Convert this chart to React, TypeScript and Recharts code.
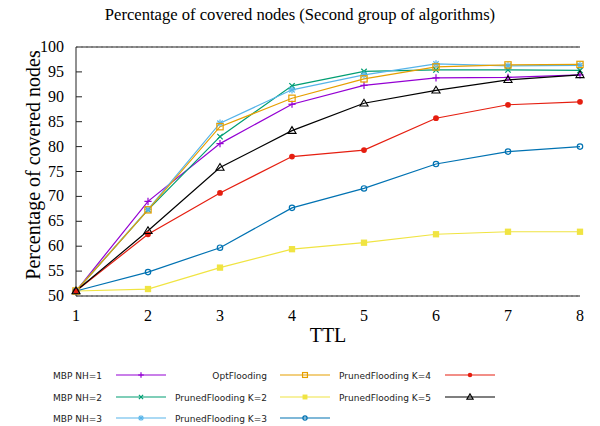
import React from "react";
import {
  CartesianGrid,
  Legend,
  Line,
  LineChart,
  ReferenceLine,
  XAxis,
  YAxis,
} from "recharts";

const ttl = [1, 2, 3, 4, 5, 6, 7, 8];
const yTicks = [50, 55, 60, 65, 70, 75, 80, 85, 90, 95, 100];

const mbpNh1 = [51, 69.0, 80.6, 88.5, 92.3, 93.8, 93.9, 94.4];
const mbpNh2 = [51, 67.3, 82.0, 92.2, 95.1, 95.4, 95.4, 95.3];
const mbpNh3 = [51, 67.4, 84.7, 91.4, 94.4, 96.6, 96.2, 96.3];
const optFlooding = [51, 67.3, 84.0, 89.7, 93.6, 96.0, 96.4, 96.5];
const prunedK2 = [51, 51.4, 55.7, 59.4, 60.7, 62.4, 62.9, 62.9];
const prunedK3 = [51, 54.8, 59.7, 67.7, 71.6, 76.5, 79.0, 80.0];
const prunedK4 = [51, 62.4, 70.7, 78.0, 79.3, 85.7, 88.4, 89.0];
const prunedK5 = [51, 63.1, 75.8, 83.2, 88.7, 91.3, 93.4, 94.4];

const data = ttl.map((t, i) => ({
  ttl: t,
  nh1: mbpNh1[i],
  nh2: mbpNh2[i],
  nh3: mbpNh3[i],
  opt: optFlooding[i],
  k2: prunedK2[i],
  k3: prunedK3[i],
  k4: prunedK4[i],
  k5: prunedK5[i],
}));

type Shape =
  | "plus"
  | "cross"
  | "star"
  | "square"
  | "fsquare"
  | "circle"
  | "fcircle"
  | "triangle";

const series: { key: string; name: string; color: string; shape: Shape }[] = [
  { key: "nh1", name: "MBP NH=1", color: "#9400D3", shape: "plus" },
  { key: "nh2", name: "MBP NH=2", color: "#009E73", shape: "cross" },
  { key: "nh3", name: "MBP NH=3", color: "#56B4E9", shape: "star" },
  { key: "opt", name: "OptFlooding", color: "#E69F00", shape: "square" },
  { key: "k2", name: "PrunedFlooding K=2", color: "#F0E442", shape: "fsquare" },
  { key: "k3", name: "PrunedFlooding K=3", color: "#0072B2", shape: "circle" },
  { key: "k4", name: "PrunedFlooding K=4", color: "#E51E10", shape: "fcircle" },
  { key: "k5", name: "PrunedFlooding K=5", color: "#000000", shape: "triangle" },
];

// gnuplot-like point types, m scales the size
const marker = (shape: Shape, color: string, cx: number, cy: number, m = 1, k?: string) => {
  const s = 4 * m;
  const d = 3 * m;
  const h = 3.5 * m;
  switch (shape) {
    case "plus":
      return (
        <g key={k} stroke={color} strokeWidth={1.2}>
          <line x1={cx - s} y1={cy} x2={cx + s} y2={cy} />
          <line x1={cx} y1={cy - s} x2={cx} y2={cy + s} />
        </g>
      );
    case "cross":
      return (
        <g key={k} stroke={color} strokeWidth={1.2}>
          <line x1={cx - d} y1={cy - d} x2={cx + d} y2={cy + d} />
          <line x1={cx - d} y1={cy + d} x2={cx + d} y2={cy - d} />
        </g>
      );
    case "star":
      return (
        <g key={k} stroke={color} strokeWidth={1.2}>
          <line x1={cx - s} y1={cy} x2={cx + s} y2={cy} />
          <line x1={cx} y1={cy - s} x2={cx} y2={cy + s} />
          <line x1={cx - d} y1={cy - d} x2={cx + d} y2={cy + d} />
          <line x1={cx - d} y1={cy + d} x2={cx + d} y2={cy - d} />
        </g>
      );
    case "square":
      return <rect key={k} x={cx - h} y={cy - h} width={2 * h} height={2 * h} fill="none" stroke={color} strokeWidth={1.2} />;
    case "fsquare":
      return <rect key={k} x={cx - h} y={cy - h} width={2 * h} height={2 * h} fill={color} />;
    case "circle":
      return <circle key={k} cx={cx} cy={cy} r={3 * m} fill="none" stroke={color} strokeWidth={1.2} />;
    case "fcircle":
      return <circle key={k} cx={cx} cy={cy} r={3.2 * m} fill={color} />;
    case "triangle":
      return (
        <polygon
          key={k}
          points={`${cx},${cy - 4.5 * m} ${cx - 4.5 * m},${cy + 3 * m} ${cx + 4.5 * m},${cy + 3 * m}`}
          fill="none"
          stroke={color}
          strokeWidth={1.1}
        />
      );
  }
};

const serif = "'Liberation Serif', 'Times New Roman', serif";
const sans = "'DejaVu Sans', sans-serif";

const LeftTick = (props: any) => {
  const { x, y, payload } = props;
  const v = payload.value;
  return (
    <g>
      {v !== 50 && v !== 100 && <line x1={x} y1={y} x2={x + 6} y2={y} stroke="#222" />}
      <text x={x - 12} y={y + 5} textAnchor="end" fontFamily={serif} fontSize={16} fill="#000">
        {v}
      </text>
    </g>
  );
};

const RightTick = (props: any) => {
  const { x, y, payload } = props;
  const v = payload.value;
  if (v === 50 || v === 100) return <g />;
  return <line x1={x - 6} y1={y} x2={x} y2={y} stroke="#222" />;
};

const BottomTick = (props: any) => {
  const { x, y, payload } = props;
  return (
    <text x={x} y={y + 25} textAnchor="middle" fontFamily={serif} fontSize={16} fill="#000">
      {payload.value}
    </text>
  );
};

const legendCols = [
  { textRight: 102, lineX: 116 },
  { textRight: 267, lineX: 280 },
  { textRight: 431, lineX: 445 },
];
const legendRows = [15, 37, 58];

const LegendBox = () => (
  <svg width={600} height={66}>
    {series.map((s, i) => {
      const col = legendCols[Math.floor(i / 3)];
      const y = legendRows[i % 3];
      const mid = col.lineX + 25;
      return (
        <g key={s.key}>
          <text x={col.textRight} y={y + 3.5} textAnchor="end" fontFamily={sans} fontSize={9} fill="#222">
            {s.name}
          </text>
          <line x1={col.lineX} y1={y} x2={col.lineX + 50} y2={y} stroke={s.color} strokeWidth={1.2} />
          {marker(s.shape, s.color, mid, y, 0.7)}
        </g>
      );
    })}
  </svg>
);

export default function App() {
  return (
    <div style={{ position: "absolute", left: 0, top: 0, width: 600, height: 426, background: "#fff" }}>
      <div
        style={{
          position: "absolute",
          left: 0,
          top: 5,
          width: 600,
          textAlign: "center",
          fontFamily: serif,
          fontSize: 16.6,
          lineHeight: "20px",
          color: "#000",
        }}
      >
        Percentage of covered nodes (Second group of algorithms)
      </div>
      <LineChart width={600} height={426} data={data} margin={{ top: 47, right: 20, bottom: 80, left: 0 }}>
        <CartesianGrid vertical={false} stroke="#aaa" strokeDasharray="2 3" />
        <XAxis
          dataKey="ttl"
          type="number"
          domain={[1, 8]}
          ticks={ttl}
          height={50}
          tickLine={false}
          tickSize={0}
          tickMargin={0}
          axisLine={{ stroke: "#222" }}
          tick={<BottomTick />}
          label={{
            content: () => (
              <text x={328} y={342} textAnchor="middle" fontFamily={serif} fontSize={20} fill="#000">
                TTL
              </text>
            ),
          }}
        />
        <YAxis
          yAxisId="left"
          type="number"
          domain={[50, 100]}
          ticks={yTicks}
          width={76}
          tickLine={false}
          tickSize={0}
          tickMargin={0}
          axisLine={{ stroke: "#222" }}
          tick={<LeftTick />}
          label={{
            content: () => (
              <text
                x={33}
                y={165}
                textAnchor="middle"
                dominantBaseline="central"
                transform="rotate(-90 33 165)"
                fontFamily={serif}
                fontSize={20}
                fill="#000"
              >
                Percentage of covered nodes
              </text>
            ),
          }}
        />
        <YAxis
          yAxisId="right"
          orientation="right"
          type="number"
          domain={[50, 100]}
          ticks={yTicks}
          width={0}
          tickLine={false}
          tickSize={0}
          tickMargin={0}
          axisLine={{ stroke: "#222" }}
          tick={<RightTick />}
        />
        <ReferenceLine yAxisId="left" y={100} stroke="#222" />
        <Legend
          layout="horizontal"
          verticalAlign="middle"
          align="center"
          wrapperStyle={{ position: "absolute", left: 0, top: 360, width: 600, height: 66 }}
          content={() => <LegendBox />}
        />
        {series.map((s) => (
          <Line
            key={s.key}
            yAxisId="left"
            type="linear"
            dataKey={s.key}
            name={s.name}
            stroke={s.color}
            strokeWidth={1.2}
            isAnimationActive={false}
            dot={(p: any) => marker(s.shape, s.color, p.cx, p.cy, 0.9, `${s.key}-${p.index}`)}
            activeDot={false}
          />
        ))}
      </LineChart>
    </div>
  );
}
